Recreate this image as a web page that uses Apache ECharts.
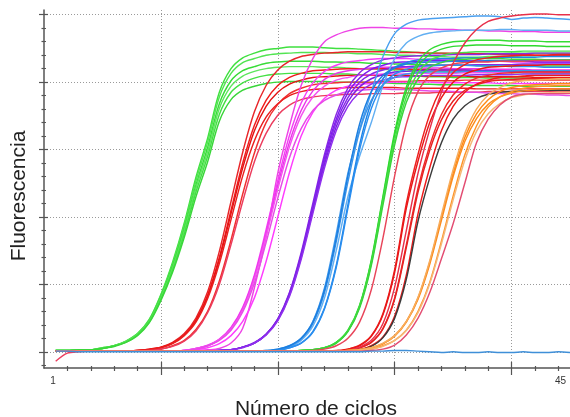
<!DOCTYPE html>
<html><head><meta charset="utf-8">
<script src="https://cdn.jsdelivr.net/npm/echarts@6/dist/echarts.min.js"></script>
<style>html,body{margin:0;padding:0;background:#fff}#c{width:570px;height:417px}</style>
</head><body><div id="c"></div>
<script>
const cycles = [1,2,3,4,5,6,7,8,9,10,11,12,13,14,15,16,17,18,19,20,21,22,23,24,25,26,27,28,29,30,31,32,33,34,35,36,37,38,39,40,41,42,43,44,45];
const xTickLabels = [1,45];
const xMajorTicks = [10,20,30,40];
const xMinorTicks = [2,4,6,8,12,14,16,18,22,24,26,28,32,34,36,38,42,44];
const yMajorTicks = [0,1,2,3,4,5];
const yMinorTicks = [-0.2,0.2,0.4,0.6,0.8,1.2,1.4,1.6,1.8,2.2,2.4,2.6,2.8,3.2,3.4,3.6,3.8,4.2,4.4,4.6,4.8];

const green1 = [
 [.02,.02,.03,.03,.06, .09,.16,.27,.48,.85, 1.33,1.91,2.59,3.17,3.85, 4.2,4.36,4.43,4.48,4.5, 4.52,4.52,4.52,4.51,4.5, 4.5,4.49,4.48,4.47,4.46, 4.45,4.44,4.43,4.43,4.42, 4.42,4.42,4.42,4.42,4.43, 4.43,4.43,4.43,4.43,4.43],
 [.02,.02,.03,.03,.06, .09,.15,.27,.47,.84, 1.3,1.88,2.54,3.11,3.78, 4.13,4.29,4.35,4.4,4.42, 4.43,4.44,4.44,4.44,4.43, 4.43,4.42,4.42,4.41,4.4, 4.4,4.39,4.38,4.38,4.37, 4.37,4.37,4.38,4.38,4.38, 4.39,4.39,4.39,4.4,4.4],
 [.02,.02,.03,.03,.05, .09,.15,.26,.46,.82, 1.27,1.83,2.47,3.03,3.68, 4.02,4.17,4.23,4.28,4.3, 4.31,4.31,4.31,4.3,4.3, 4.29,4.29,4.28,4.28,4.27, 4.27,4.26,4.26,4.25,4.25, 4.25,4.25,4.24,4.24,4.24, 4.24,4.24,4.24,4.24,4.24],
 [.02,.02,.03,.03,.05, .09,.15,.26,.45,.8, 1.24,1.79,2.43,2.97,3.61, 3.94,4.09,4.16,4.2,4.22, 4.23,4.23,4.23,4.22,4.22, 4.21,4.2,4.2,4.19,4.18, 4.18,4.17,4.16,4.16,4.15, 4.15,4.15,4.14,4.14,4.14, 4.14,4.13,4.13,4.13,4.13],
 [.02,.02,.03,.03,.05, .09,.14,.25,.44,.78, 1.21,1.75,2.37,2.9,3.52, 3.85,3.99,4.06,4.1,4.12, 4.13,4.13,4.13,4.13,4.12, 4.12,4.11,4.11,4.1,4.1, 4.09,4.09,4.08,4.08,4.07, 4.07,4.07,4.06,4.06,4.06, 4.06,4.05,4.05,4.05,4.05],
 [.02,.02,.03,.03,.05, .08,.14,.24,.43,.76, 1.18,1.7,2.3,2.82,3.42, 3.74,3.88,3.94,3.98,4.0, 4.01,4.01,4.01,4.01,4.0, 4.0,4.0,3.99,3.99,3.98, 3.98,3.97,3.97,3.96,3.96, 3.96,3.95,3.95,3.95,3.95, 3.94,3.94,3.94,3.94,3.94]
];
const green1Colors = ['#3fe03f','#52e452','#38dc38','#5ee65e','#44e044','#3ad63a'];

const red1 = [
 [.01,.01,.01,.01,.01, .01,.01,.02,.04,.07, .14,.27,.5,.89,1.49, 2.23,2.96,3.56,3.95,4.18, 4.31,4.38,4.41,4.43,4.44, 4.45,4.45,4.45,4.45,4.44, 4.44,4.44,4.43,4.43,4.43, 4.42,4.42,4.42,4.41,4.41, 4.41,4.4,4.4,4.4,4.4],
 [.01,.01,.01,.01,.01, .01,.01,.02,.04,.07, .13,.25,.47,.84,1.4, 2.1,2.8,3.36,3.73,3.95, 4.07,4.13,4.17,4.18,4.19, 4.2,4.2,4.2,4.2,4.2, 4.19,4.19,4.19,4.18,4.18, 4.18,4.17,4.17,4.17,4.16, 4.16,4.16,4.15,4.15,4.15],
 [.01,.01,.01,.01,.01, .01,.01,.02,.03,.06, .13,.25,.46,.82,1.37, 2.05,2.73,3.28,3.64,3.85, 3.97,4.03,4.07,4.08,4.09, 4.1,4.1,4.1,4.1,4.1, 4.1,4.09,4.09,4.09,4.09, 4.09,4.08,4.08,4.08,4.08, 4.08,4.07,4.07,4.07,4.07],
 [.01,.01,.01,.01,.01, .01,.01,.01,.02,.04, .09,.17,.33,.6,1.05, 1.66,2.34,2.95,3.4,3.67, 3.83,3.91,3.96,3.98,3.99, 4.0,4.0,4.0,4.01,4.01, 4.01,4.02,4.02,4.02,4.02, 4.03,4.03,4.03,4.03,4.03, 4.03,4.03,4.03,4.03,4.03],
 [.01,.01,.01,.01,.01, .01,.01,.02,.03,.06, .12,.24,.44,.79,1.31, 1.96,2.61,3.13,3.48,3.68, 3.8,3.86,3.89,3.9,3.91, 3.92,3.92,3.92,3.92,3.92, 3.91,3.91,3.91,3.91,3.91, 3.91,3.9,3.9,3.9,3.9, 3.9,3.9,3.9,3.9,3.9],
 [-.14,-.02,0,.01,.01, .01,.01,.01,.02,.04, .08,.16,.31,.58,1.0, 1.59,2.23,2.82,3.24,3.51, 3.66,3.74,3.78,3.8,3.81, 3.82,3.82,3.83,3.83,3.83, 3.84,3.84,3.84,3.85,3.85, 3.85,3.85,3.86,3.86,3.86, 3.86,3.86,3.86,3.86,3.86]
];
const red1Colors = ['#e8262a','#f01c1c','#e31414','#f03030','#ea1f1f','#ec3d5e'];

const magenta = [
 [.01,.01,.01,.01,.01, .01,.01,.01,.01,.01, .01,.01,.02,.03,.05, .13,.35,.95,1.7,2.65, 3.35,3.95,4.35,4.6,4.7, 4.76,4.8,4.81,4.81,4.8, 4.8,4.79,4.79,4.78,4.78, 4.77,4.77,4.76,4.76,4.75, 4.75,4.75,4.74,4.74,4.74],
 [.01,.01,.01,.01,.01, .01,.01,.01,.01,.01, .01,.02,.05,.1,.19, .36,.66,1.14,1.81,2.54, 3.21,3.69,3.99,4.16,4.25, 4.3,4.32,4.34,4.35,4.35, 4.35,4.34,4.34,4.33,4.33, 4.32,4.32,4.31,4.31,4.3, 4.3,4.3,4.29,4.29,4.29],
 [.01,.01,.01,.01,.01, .01,.01,.01,.01,.01, .01,.02,.05,.09,.18, .35,.64,1.11,1.75,2.47, 3.11,3.58,3.87,4.04,4.13, 4.17,4.19,4.21,4.22,4.22, 4.22,4.21,4.21,4.21,4.2, 4.2,4.2,4.19,4.19,4.19, 4.19,4.18,4.18,4.18,4.18],
 [.01,.01,.01,.01,.01, .01,.01,.01,.01,.01, .01,.02,.05,.09,.18, .34,.62,1.08,1.71,2.41, 3.04,3.5,3.78,3.94,4.03, 4.07,4.1,4.11,4.12,4.12, 4.12,4.13,4.13,4.13,4.13, 4.14,4.14,4.14,4.14,4.14, 4.15,4.15,4.15,4.15,4.15],
 [.01,.01,.01,.01,.01, .01,.01,.01,.01,.01, .01,.02,.03,.06,.12, .24,.45,.8,1.34,2.0, 2.66,3.2,3.55,3.76,3.88, 3.94,3.97,3.98,3.99,4.0, 4.0,4.0,4.0,3.99,3.99, 3.99,3.99,3.99,3.98,3.98, 3.98,3.98,3.98,3.98,3.98],
 [.01,.01,.01,.01,.01, .01,.01,.01,.01,.01, .01,.02,.04,.09,.17, .32,.59,1.02,1.62,2.28, 2.88,3.31,3.58,3.73,3.81, 3.86,3.88,3.89,3.9,3.89, 3.89,3.88,3.87,3.87,3.86, 3.85,3.85,3.84,3.83,3.83, 3.82,3.82,3.81,3.81,3.8]
];
const magentaColors = ['#ee44e6','#f53cf5','#e935e9','#f552f0','#ff3cff','#e64ce6'];

const purple = [
 [.01,.01,.01,.01,.01, .01,.01,.01,.01,.01, .01,.01,.01,.01,.02, .03,.07,.14,.26,.49, .88,1.47,2.2,2.93,3.52, 3.91,4.14,4.26,4.33,4.36, 4.38,4.39,4.4,4.4,4.41, 4.41,4.41,4.42,4.42,4.42, 4.42,4.43,4.43,4.43,4.43],
 [.01,.01,.01,.01,.01, .01,.01,.01,.01,.01, .01,.01,.01,.01,.02, .03,.07,.13,.26,.48, .87,1.44,2.16,2.88,3.45, 3.84,4.06,4.19,4.25,4.29, 4.3,4.31,4.32,4.32,4.32, 4.32,4.31,4.31,4.31,4.31, 4.31,4.3,4.3,4.3,4.3],
 [.01,.01,.01,.01,.01, .01,.01,.01,.01,.01, .01,.01,.01,.01,.02, .03,.07,.13,.26,.48, .85,1.42,2.13,2.83,3.4, 3.77,4.0,4.12,4.18,4.22, 4.23,4.24,4.25,4.25,4.25, 4.25,4.26,4.26,4.26,4.26, 4.27,4.27,4.27,4.27,4.27],
 [.01,.01,.01,.01,.01, .01,.01,.01,.01,.01, .01,.01,.01,.01,.02, .03,.07,.13,.25,.47, .84,1.4,2.09,2.78,3.34, 3.71,3.93,4.05,4.11,4.15, 4.16,4.17,4.18,4.18,4.18, 4.18,4.17,4.17,4.17,4.17, 4.17,4.16,4.16,4.16,4.16],
 [.01,.01,.01,.01,.01, .01,.01,.01,.01,.01, .01,.01,.01,.01,.02, .03,.06,.13,.25,.46, .82,1.37,2.05,2.73,3.28, 3.64,3.85,3.97,4.03,4.07, 4.08,4.09,4.1,4.1,4.1, 4.1,4.11,4.11,4.11,4.11, 4.12,4.12,4.12,4.12,4.12]
];
const purpleColors = ['#8a2be2','#7c1cf0','#8526e8','#7a22e0','#9030ee'];

const blue = [
 [.01,.01,.01,.01,.01, .01,.01,.01,.01,.01, .01,.01,.01,.01,.01, .01,.01,.01,.02,.04, .09,.2,.45,.95,1.75, 2.65,3.3,3.85,4.38,4.72, 4.86,4.92,4.94,4.95,4.96, 4.97,4.98,4.98,4.97,4.93, 4.95,4.96,4.95,4.94,4.93],
 [.01,.01,.01,.01,.01, .01,.01,.01,.01,.01, .01,.01,.01,.01,.01, .01,.01,.01,.01,.03, .07,.17,.38,.8,1.5, 2.3,2.9,3.4,3.95,4.35, 4.58,4.68,4.73,4.75,4.76, 4.77,4.77,4.77,4.78,4.78, 4.77,4.77,4.77,4.76,4.76],
 [.01,.01,.01,.01,.01, .01,.01,.01,.01,.01, .01,.01,.01,.01,.01, .01,.01,.01,.01,.02, .06,.13,.3,.65,1.28, 2.18,3.07,3.7,4.05,4.22, 4.29,4.33,4.34,4.35,4.35, 4.36,4.36,4.36,4.37,4.37, 4.37,4.37,4.38,4.38,4.38],
 [.01,.01,.01,.01,.01, .01,.01,.01,.01,.01, .01,.01,.01,.01,.01, .01,.01,.01,.01,.02, .06,.13,.29,.64,1.25, 2.13,3.0,3.61,3.96,4.12, 4.19,4.23,4.24,4.25,4.25, 4.25,4.24,4.24,4.24,4.23, 4.23,4.23,4.22,4.22,4.22],
 [.01,.01,.01,.01,.01, .01,.01,.01,.01,.01, .01,.01,.01,.01,.01, .01,.01,.01,.01,.03, .08,.19,.42,.88,1.63, 2.52,3.27,3.73,3.96,4.07, 4.12,4.14,4.15,4.15,4.15, 4.16,4.16,4.16,4.16,4.17, 4.17,4.17,4.17,4.17,4.17],
 [.01,.01,.01,.01,.01, .01,.01,.01,.01,.01, .01,.01,.01,.01,.01, .01,.01,.01,.02,.04, .09,.2,.44,.92,1.69, 2.61,3.38,3.86,4.1,4.21, 4.27,4.29,4.3,4.3,4.31, 4.31,4.31,4.32,4.32,4.32, 4.32,4.33,4.33,4.33,4.33]
];
const blueColors = ['#4aa0f0','#62aff2','#1e84e6','#2a8ef0','#3b93e8','#1c7fe0'];

const green2 = [
 [.01,.01,.01,.01,.01, .01,.01,.01,.01,.01, .01,.01,.01,.01,.01, .01,.01,.01,.01,.01, .01,.02,.03,.06,.14, .32,.69,1.36,2.31,3.26, 3.93,4.3,4.48,4.56,4.6, 4.61,4.62,4.62,4.62,4.61, 4.61,4.61,4.6,4.6,4.6],
 [.01,.01,.01,.01,.01, .01,.01,.01,.01,.01, .01,.01,.01,.01,.01, .01,.01,.01,.01,.01, .01,.02,.03,.06,.14, .31,.68,1.34,2.28,3.21, 3.87,4.24,4.41,4.49,4.53, 4.54,4.55,4.55,4.55,4.54, 4.54,4.54,4.53,4.53,4.53],
 [.01,.01,.01,.01,.01, .01,.01,.01,.01,.01, .01,.01,.01,.01,.01, .01,.01,.01,.01,.01, .01,.02,.03,.06,.13, .31,.67,1.31,2.23,3.14, 3.78,4.14,4.32,4.39,4.43, 4.44,4.45,4.45,4.45,4.45, 4.46,4.46,4.46,4.46,4.46],
 [.01,.01,.01,.01,.01, .01,.01,.01,.01,.01, .01,.01,.01,.01,.01, .01,.01,.01,.01,.01, .01,.02,.03,.06,.13, .3,.65,1.28,2.18,3.07, 3.7,4.05,4.22,4.29,4.33, 4.34,4.35,4.35,4.35,4.34, 4.34,4.34,4.33,4.33,4.33],
 [.01,.01,.01,.01,.01, .01,.01,.01,.01,.01, .01,.01,.01,.01,.01, .01,.01,.01,.01,.01, .01,.01,.02,.04,.09, .2,.44,.92,1.69,2.61, 3.38,3.86,4.1,4.21,4.27, 4.29,4.3,4.3,4.31,4.31, 4.31,4.32,4.32,4.32,4.32]
];
const green2Colors = ['#34dc34','#2ed82e','#48e048','#3ad43a','#e8455a'];

const red2 = [
 [.01,.01,.01,.01,.01, .01,.01,.01,.01,.01, .01,.01,.01,.01,.01, .01,.01,.01,.01,.01, .01,.01,.01,.01,.02, .04,.1,.24,.57,1.22, 2.2,2.93,3.52,3.91,4.14, 4.26,4.33,4.36,4.38,4.39, 4.4,4.4,4.4,4.41,4.41],
 [.01,.01,.01,.01,.01, .01,.01,.01,.01,.01, .01,.01,.01,.01,.01, .01,.01,.01,.01,.01, .01,.01,.01,.01,.01, .04,.09,.23,.55,1.18, 2.13,2.83,3.4,3.77,4.0, 4.12,4.18,4.22,4.23,4.24, 4.25,4.25,4.26,4.26,4.26],
 [.01,.01,.01,.01,.01, .01,.01,.01,.01,.01, .01,.01,.01,.01,.01, .01,.01,.01,.01,.01, .01,.01,.01,.01,.01, .02,.06,.14,.35,.8, 1.59,2.43,3.06,3.52,3.81, 3.97,4.06,4.1,4.13,4.14, 4.15,4.15,4.15,4.15,4.15],
 [.01,.01,.01,.01,.01, .01,.01,.01,.01,.01, .01,.01,.01,.01,.01, .01,.01,.01,.01,.01, .01,.01,.01,.01,.01, .02,.06,.14,.34,.78, 1.55,2.37,2.99,3.44,3.72, 3.88,3.96,4.01,4.03,4.04, 4.05,4.05,4.05,4.06,4.06],
 [.01,.01,.01,.01,.01, .01,.01,.01,.01,.01, .01,.01,.01,.01,.01, .01,.01,.01,.01,.01, .01,.01,.01,.01,.01, .02,.07,.17,.42,.96, 1.8,2.65,3.3,3.85,4.28, 4.58,4.78,4.9,4.95,4.98, 5.0,5.01,5.01,5.0,5.0],
 [.01,.01,.01,.01,.01, .01,.01,.01,.01,.01, .01,.01,.01,.01,.01, .01,.01,.01,.01,.01, .01,.01,.01,.01,.01, .01,.03,.09,.22,.53, 1.14,2.05,2.73,3.28,3.64, 3.85,3.97,4.03,4.07,4.08, 4.09,4.1,4.1,4.1,4.1],
 [.01,.01,.01,.01,.01, .01,.01,.01,.01,.01, .01,.01,.01,.01,.01, .01,.01,.01,.01,.01, .01,.01,.01,.01,.01, .01,.03,.08,.21,.5, 1.08,1.94,2.58,3.1,3.45, 3.65,3.76,3.82,3.85,3.86, 3.87,3.88,3.88,3.88,3.88]
];
const red2Colors = ['#ee2020','#e81818','#f02a2a','#e62222','#e8304a','#f01a1a','#3c3c3c'];

const orange = [
 [.01,.01,.01,.01,.01, .01,.01,.01,.01,.01, .01,.01,.01,.01,.01, .01,.01,.01,.01,.01, .01,.01,.01,.01,.01, .02,.03,.06,.12,.24, .45,.8,1.33,1.99,2.65, 3.18,3.53,3.74,3.86,3.92, 3.95,3.96,3.97,3.98,3.98],
 [.01,.01,.01,.01,.01, .01,.01,.01,.01,.01, .01,.01,.01,.01,.01, .01,.01,.01,.01,.01, .01,.01,.01,.01,.01, .02,.03,.06,.12,.23, .44,.78,1.3,1.95,2.6, 3.12,3.46,3.67,3.78,3.84, 3.87,3.88,3.89,3.9,3.9],
 [.01,.01,.01,.01,.01, .01,.01,.01,.01,.01, .01,.01,.01,.01,.01, .01,.01,.01,.01,.01, .01,.01,.01,.01,.01, .01,.02,.04,.09,.17, .32,.6,1.03,1.64,2.31, 2.92,3.35,3.63,3.78,3.86, 3.91,3.93,3.94,3.95,3.95],
 [.01,.01,.01,.01,.01, .01,.01,.01,.01,.01, .01,.01,.01,.01,.01, .01,.01,.01,.01,.01, .01,.01,.01,.01,.01, .02,.03,.06,.13,.24, .45,.81,1.35,2.03,2.7, 3.24,3.6,3.81,3.92,3.99, 4.02,4.03,4.04,4.05,4.05],
 [.01,.01,.01,.01,.01, .01,.01,.01,.01,.01, .01,.01,.01,.01,.01, .01,.01,.01,.01,.01, .01,.01,.01,.01,.01, .01,.02,.04,.08,.17, .32,.58,1.01,1.6,2.25, 2.84,3.27,3.53,3.68,3.77, 3.81,3.83,3.84,3.85,3.85],
 [.01,.01,.01,.01,.01, .01,.01,.01,.01,.01, .01,.01,.01,.01,.01, .01,.01,.01,.01,.01, .01,.01,.01,.01,.01, .01,.01,.02,.04,.1, .25,.5,.88,1.38,1.9, 2.5,3.1,3.45,3.66,3.78, 3.82,3.83,3.83,3.83,3.83]
];
const orangeColors = ['#ff8a14','#fb8c1e','#ff9426','#f7ad5e','#f5b878','#e34d72'];

const flatBlue = [.01,.01,0,0,0, 0,0,0,0,0, 0,0,0,0,0, 0,0,0,0,0, 0,0,0,0,0, 0,0,.01,.01,.02, .02,.01,0,-.01,0, -.01,-.01,0,-.01,-.01, 0,-.01,-.01,0,-.01];
const flatBlueColor = '#3f8fd8';

const series = [];
function addGroup(curves, colors) {
  curves.forEach((vals, i) => {
    series.push({
      type: 'line',
      data: vals.map((v, j) => [cycles[j], v]),
      showSymbol: false, symbol: 'none',
      smooth: 0.3,
      lineStyle: { width: 1.45, color: colors[i] },
      itemStyle: { color: colors[i] },
      silent: true, animation: false
    });
  });
}
addGroup(green1, green1Colors);
addGroup(red1, red1Colors);
addGroup(magenta, magentaColors);
addGroup(purple, purpleColors);
addGroup(blue, blueColors);
addGroup(green2, green2Colors);
addGroup(red2, red2Colors);
addGroup(orange, orangeColors);
addGroup([flatBlue], [flatBlueColor]);

const axisCol = '#555';
const gridLine = { show: true, lineStyle: { color: '#9a9a9a', width: 1, type: [1, 2] } };
function xAx(extra) {
  return Object.assign({
    type: 'value', min: 0, max: 45, position: 'bottom',
    axisLine: { show: false, onZero: false },
    axisLabel: { show: false }, splitLine: { show: false }
  }, extra);
}
function yAx(extra) {
  return Object.assign({
    type: 'value', min: -0.24, max: 5.07, position: 'left',
    axisLine: { show: false, onZero: false },
    axisLabel: { show: false }, splitLine: { show: false }
  }, extra);
}

const option = {
  animation: false,
  backgroundColor: '#fff',
  grid: { left: 44, right: 0, top: 10, bottom: 49, containLabel: false, outerBoundsMode: 'none' },
  xAxis: [
    xAx({
      axisLine: { show: true, onZero: false, lineStyle: { color: axisCol, width: 1.5 } },
      axisTick: { show: true, customValues: xMinorTicks, length: 3, lineStyle: { color: axisCol, width: 1.2 } },
      axisLabel: {
        show: true, customValues: xTickLabels, align: 'right', margin: 8,
        fontSize: 10, color: '#333', fontFamily: 'Liberation Sans, Arial, sans-serif',
        formatter: v => (v === 45 ? '{b|' + v + '}' : '{a|' + v + '}'),
        rich: { a: { fontSize: 10, color: '#333' }, b: { fontSize: 10, color: '#333', padding: [0, 4, 0, 0] } }
      }
    }),
    xAx({ axisTick: { show: true, customValues: xMajorTicks, length: 7, lineStyle: { color: axisCol, width: 1.2 } }, splitLine: gridLine }),
    xAx({ axisTick: { show: true, inside: true, customValues: xMajorTicks, length: 6, lineStyle: { color: axisCol, width: 1.2 } } }),
    xAx({ axisTick: { show: true, inside: true, customValues: xMinorTicks, length: 2, lineStyle: { color: axisCol, width: 1.2 } } })
  ],
  yAxis: [
    yAx({
      axisLine: { show: true, onZero: false, lineStyle: { color: axisCol, width: 1.5 } },
      axisTick: { show: true, customValues: yMinorTicks, length: 2.5, lineStyle: { color: axisCol, width: 1.2 } }
    }),
    yAx({ axisTick: { show: true, customValues: yMajorTicks, length: 5, lineStyle: { color: axisCol, width: 1.2 } }, splitLine: gridLine }),
    yAx({ axisTick: { show: true, inside: true, customValues: yMajorTicks, length: 4, lineStyle: { color: axisCol, width: 1.2 } } }),
    yAx({ axisTick: { show: true, inside: true, customValues: yMinorTicks, length: 2, lineStyle: { color: axisCol, width: 1.2 } } })
  ],
  graphic: [
    { type: 'text', x: 19.5, y: 196, rotation: Math.PI / 2, silent: true,
      style: { text: 'Fluorescencia', fontSize: 21, fontFamily: 'Liberation Sans, Arial, sans-serif', fill: '#222', align: 'center', verticalAlign: 'middle' } },
    { type: 'text', x: 316, y: 409, silent: true,
      style: { text: 'Número de ciclos', fontSize: 21, fontFamily: 'Liberation Sans, Arial, sans-serif', fill: '#222', align: 'center', verticalAlign: 'middle' } }
  ],
  series: series
};
const chart = echarts.init(document.getElementById('c'), null, { renderer: 'canvas' });
chart.setOption(option);
</script></body></html>
